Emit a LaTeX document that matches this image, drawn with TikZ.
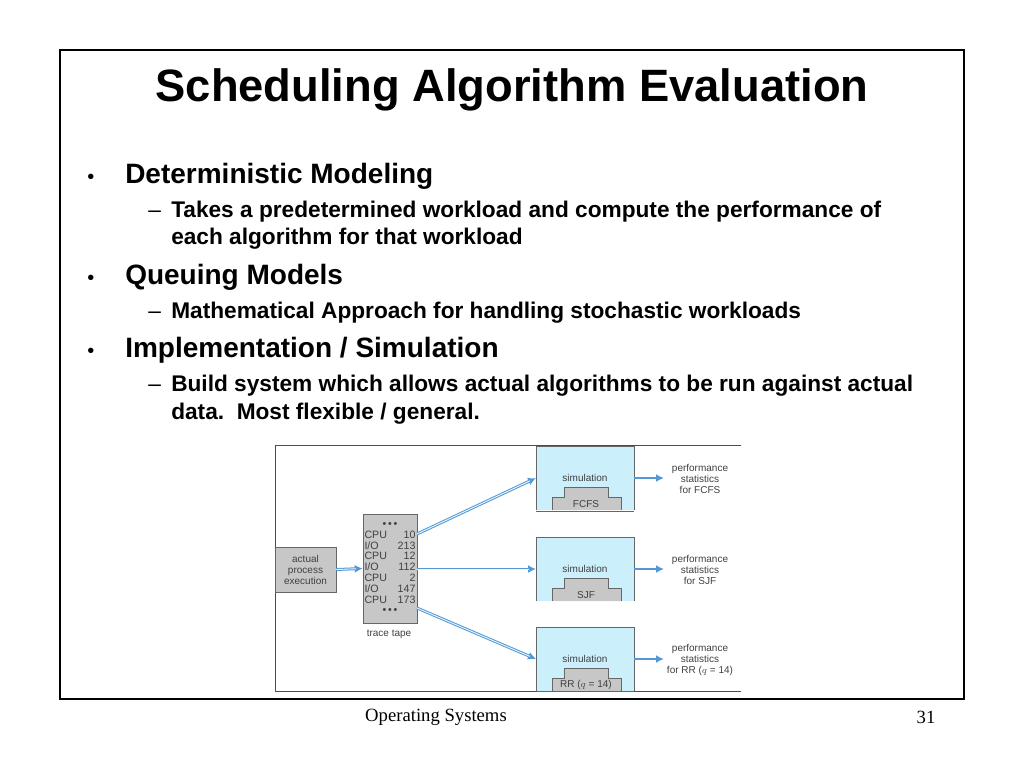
\documentclass[tikz,border=0pt]{standalone}
\usepackage{fontspec}
\setmainfont{Liberation Serif}
\setsansfont{Liberation Sans}
\usetikzlibrary{arrows.meta}
\begin{document}
\begin{tikzpicture}[x=0.75pt,y=-0.75pt,
  every node/.style={font=\sffamily, inner sep=0pt},
  bul/.style={anchor=base west,font=\sffamily\bfseries\fontsize{21}{24}\selectfont},
  bdot/.style={anchor=base west,font=\sffamily\fontsize{15}{18}\selectfont},
  sub/.style={anchor=base west,font=\sffamily\bfseries\fontsize{17}{20}\selectfont},
  sdash/.style={anchor=base west,font=\sffamily\fontsize{17}{20}\selectfont},
  small/.style={font=\sffamily\fontsize{7.5}{8.3}\selectfont, text=black!75, align=center},
  graybox/.style={draw=black!60, fill=black!22},
  flow/.style={draw=cyan!60!blue!70, line width=2.2pt, -{Latex[length=6pt,width=6pt]}},
  flowin/.style={draw=cyan!10, line width=0.7pt, shorten >=5pt}]
\useasboundingbox (0,0) rectangle (1024,768);
\draw[line width=1pt] (60,50) rectangle (964,699);
\node (title) at (512,90) {\bfseries\fontsize{34}{38}\selectfont Scheduling Algorithm Evaluation};
\node[bdot] (b1d) at (87,183) {•};
\node[bul] (b1) at (125,183) {Deterministic Modeling};
\node[sdash] (s1d) at (148,217) {–};
\node[sub] (s1) at (171,217) {Takes a predetermined workload and compute the performance of};
\node[sub] (s1b) at (171,244) {each algorithm for that workload};
\node[bdot] (b2d) at (87,284) {•};
\node[bul] (b2) at (125,284) {Queuing Models};
\node[sdash] (s2d) at (148,318) {–};
\node[sub] (s2) at (171,318) {Mathematical Approach for handling stochastic workloads};
\node[bdot] (b3d) at (87,357) {•};
\node[bul] (b3) at (125,357) {Implementation / Simulation};
\node[sdash] (s3d) at (148,391) {–};
\node[sub] (s3) at (171,391) {Build system which allows actual algorithms to be run against actual};
\node[sub] (s3b) at (171,419) {data.\ \ Most flexible / general.};
% figure frame
\draw[black!70] (741,445) -- (275,445) -- (275,691) -- (741,691);
% actual
\node[graybox, minimum width=45.75pt, minimum height=33.75pt, small] (act) at (305.5,569.5) {actual\\process\\execution};
\node[graybox, minimum width=40.5pt, minimum height=81.75pt] (tape) at (390,568.5) {};
\node[small, font=\sffamily\fontsize{8}{8}\selectfont] (tapetxt) at (390,568.5) {%
\renewcommand{\arraystretch}{1}%
\begin{tabular}{@{}l@{\hspace{8pt}}r@{}}\multicolumn{2}{c}{\textbullet\,\textbullet\,\textbullet}\\CPU&10\\I/O&213\\CPU&12\\I/O&112\\CPU&2\\I/O&147\\CPU&173\\\multicolumn{2}{c}{\textbullet\,\textbullet\,\textbullet}\end{tabular}};
\node[small] (tt) at (389,634) {trace tape};
% sim boxes
\foreach \n/\y/\lab in {s1/446/FCFS, s2/537/SJF, s3/627/{RR ($q$ = 14)}}{
  \fill[cyan!20] (536,\y) rectangle (634,\y+64);
  \draw[black!60] (536,\y+64) -- (536,\y) -- (634,\y) -- (634,\y+64);
  \node[small] (\n lab) at (585,\y+32) {simulation};
  \draw[black!60, fill=black!22] (552,\y+64) -- (552,\y+51) -- (564,\y+51) -- (564,\y+41) -- (608,\y+41) -- (608,\y+51) -- (621,\y+51) -- (621,\y+64);
  \node[small] (\n alg) at (586,\y+58) {\lab};
  \coordinate (\n) at (536,\y+32);
  \coordinate (\n o) at (634,\y+32);
}
\draw[black!60] (536,691) -- (634,691) (536,511) -- (634,511);
\node[small] (p1) at (700,479) {performance\\statistics\\for FCFS};
\node[small] (p2) at (700,570) {performance\\statistics\\for SJF};
\node[small] (p3) at (700,660) {performance\\statistics\\for RR ($q$ = 14)};
% arrows
\draw[flow] (act.east) -- (tape.west);
\draw[flow] (417,534) -- (s1);
\draw[flow] (417,569) -- (s2);
\draw[flow] (417,608) -- (s3);
\draw[flow] (s1o) -- ++(30,0);
\draw[flow] (s2o) -- ++(30,0);
\draw[flow] (s3o) -- ++(30,0);
\draw[flowin] (act.east) -- (tape.west);
\draw[flowin] (417,534) -- (s1);
\draw[flowin] (417,569) -- (s2);
\draw[flowin] (417,608) -- (s3);
\node (foot) at (436,717) {\rmfamily\fontsize{14}{16}\selectfont Operating Systems};
\node (num) at (926,717) {\rmfamily\fontsize{14}{16}\selectfont 31};
\end{tikzpicture}
\end{document}
